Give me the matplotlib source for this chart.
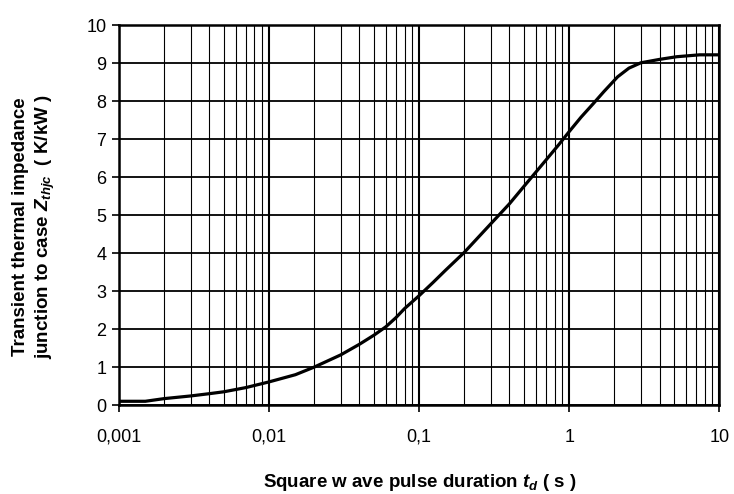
import matplotlib
matplotlib.use("Agg")
import matplotlib.pyplot as plt
from matplotlib.ticker import FixedLocator, FixedFormatter, LogLocator, NullFormatter

plt.rcParams['font.family'] = ['Liberation Sans', 'DejaVu Sans']
plt.rcParams['mathtext.fontset'] = 'custom'
plt.rcParams['mathtext.it'] = 'Liberation Sans:bold:italic'
plt.rcParams['mathtext.rm'] = 'Liberation Sans:bold'
plt.rcParams['mathtext.bf'] = 'Liberation Sans:bold'

# data
t_s = [0.001, 0.0015, 0.002, 0.003, 0.004, 0.005, 0.007, 0.01, 0.015, 0.02, 0.03,
       0.04, 0.05, 0.06, 0.07, 0.08, 0.1, 0.124, 0.15, 0.2, 0.3, 0.4, 0.5, 0.7,
       0.85, 1.0, 1.2, 1.45, 1.7, 2.1, 2.5, 3.0, 4.0, 5.2, 7.4, 10.0]
z_thjc = [0.1, 0.1, 0.17, 0.24, 0.3, 0.35, 0.46, 0.61, 0.8, 1.0, 1.32,
          1.6, 1.84, 2.06, 2.3, 2.54, 2.88, 3.23, 3.55, 4.02, 4.77, 5.3, 5.76, 6.45,
          6.85, 7.2, 7.58, 7.94, 8.25, 8.64, 8.87, 9.01, 9.1, 9.17, 9.22, 9.22]
x_ticks = [0.001, 0.01, 0.1, 1, 10]
x_tick_labels = ["0,001", "0,01", "0,1", "1", "10"]
y_ticks = list(range(0, 11))

fig = plt.figure(figsize=(7.34, 4.94), dpi=100)
ax = fig.add_axes([0.162, 0.180, 0.818, 0.769])

ax.plot(t_s, z_thjc, color='black', lw=2.3, solid_capstyle='round',
        solid_joinstyle='round', zorder=5)

ax.set_xscale('log')
ax.set_xlim(0.001, 10)
ax.set_ylim(0, 10)
ax.xaxis.set_major_locator(FixedLocator(x_ticks))
ax.xaxis.set_major_formatter(FixedFormatter(x_tick_labels))
ax.xaxis.set_minor_locator(LogLocator(base=10, subs=range(2, 10), numticks=20))
ax.xaxis.set_minor_formatter(NullFormatter())
ax.set_yticks(y_ticks)

ax.grid(which='major', axis='x', color='black', lw=1.5)
ax.grid(which='minor', axis='x', color='black', lw=0.8)
ax.grid(which='major', axis='y', color='black', lw=1.3)

for s in ax.spines.values():
    s.set_linewidth(1.8)
    s.set_color('black')

ax.tick_params(axis='both', which='major', direction='out', length=5, width=1.2,
               labelsize=13, colors='black', pad=4)
ax.tick_params(axis='x', which='major', pad=12)
ax.tick_params(axis='x', which='minor', length=0)

ax.set_xlabel(r"Square w ave pulse duration $t_{d}$ ( s )", fontsize=13.5,
              fontweight='bold')
ax.xaxis.set_label_coords(0.502, -0.175)
ax.set_ylabel("Transient thermal impedance\n" + r"junction to case $Z_{thjc}$  ( K/kW )",
              fontsize=13.5, fontweight='bold', linespacing=1.35)
ax.yaxis.set_label_coords(-0.103, 0.47)

fig.savefig("out.png", dpi=100)
